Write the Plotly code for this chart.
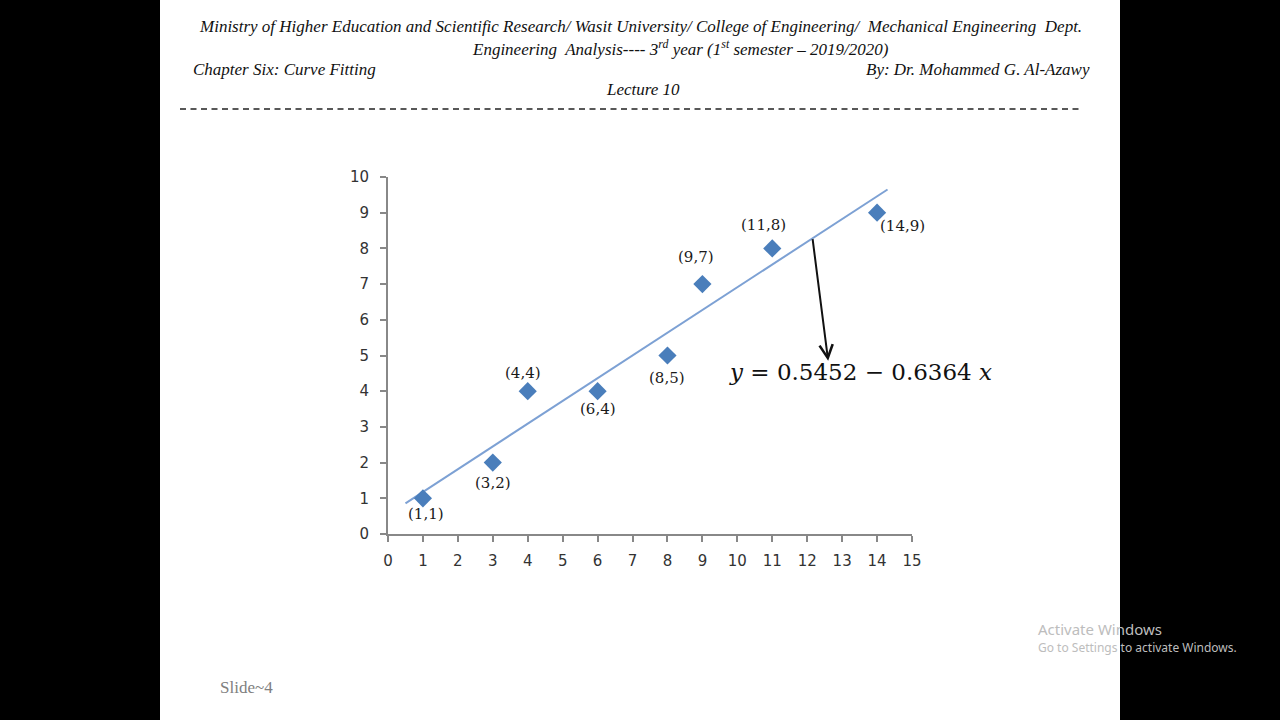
import plotly.graph_objects as go

# ---- data ----
x_pts = [1, 3, 4, 6, 8, 9, 11, 14]
y_pts = [1, 2, 4, 4, 5, 7, 8, 9]
fit_x = [0.5, 14.3]
fit_y = [0.86, 9.65]
arrow_start = (12.15, 8.3)
arrow_end = (12.6, 4.85)
equation = "<i>y</i> = 0.5452 − 0.6364 <i>x</i>"
x_ticks = list(range(0, 16))
y_ticks = list(range(0, 11))

W, H = 1280, 720
def px(x): return x / W
def py(y): return 1 - y / H

fig = go.Figure()

fig.add_trace(go.Scatter(
    x=fit_x, y=fit_y, mode="lines",
    line=dict(color="#7DA1D4", width=2), hoverinfo="skip", showlegend=False))

fig.add_trace(go.Scatter(
    x=x_pts, y=y_pts, mode="markers",
    marker=dict(symbol="diamond", size=14, color="#4A7EBB", line=dict(width=0)),
    showlegend=False))

annotations = []
# point labels (offsets in pixels)
offsets = [(3, -16), (0, -20), (-5, 18), (0, -18), (0, -22), (-6, 27), (-9, 23), (25, -13)]
for (xv, yv), (dx, dy) in zip(zip(x_pts, y_pts), offsets):
    annotations.append(dict(
        x=xv, y=yv, xref="x", yref="y", text=f"({xv},{yv})", showarrow=False,
        xshift=dx, yshift=dy, font=dict(family="DejaVu Serif", size=15, color="#1a1a1a")))

# arrow
annotations.append(dict(
    x=arrow_end[0], y=arrow_end[1], ax=arrow_start[0], ay=arrow_start[1],
    xref="x", yref="y", axref="x", ayref="y", text="", showarrow=True,
    arrowhead=5, arrowsize=1.3, arrowwidth=2, arrowcolor="#111111"))

# equation
annotations.append(dict(
    x=px(860), y=py(372), xref="paper", yref="paper", text=equation, showarrow=False,
    xanchor="center", yanchor="middle",
    font=dict(family="DejaVu Serif", size=23, color="#111111")))

# header texts
hfont = dict(family="Liberation Serif", size=17, color="#111111")
annotations += [
    dict(x=px(640), y=py(27), text="<i>Ministry of Higher Education and Scientific Research/ Wasit University/ College of Engineering/  Mechanical Engineering  Dept.</i>",
         xanchor="center", font=hfont),
    dict(x=px(680), y=py(48), text="<i>Engineering  Analysis---- 3<sup>rd</sup> year (1<sup>st</sup> semester – 2019/2020)</i>",
         xanchor="center", font=hfont),
    dict(x=px(191), y=py(69), text="<i>Chapter Six: Curve Fitting</i>", xanchor="left", font=hfont),
    dict(x=px(1092), y=py(69), text="<i>By: Dr. Mohammed G. Al-Azawy</i>", xanchor="right", font=hfont),
    dict(x=px(643), y=py(89), text="<i>Lecture 10</i>", xanchor="center", font=hfont),
    dict(x=px(218), y=py(687), text="Slide~4", xanchor="left",
         font=dict(family="Liberation Serif", size=17, color="#808080")),
    dict(x=px(1036), y=py(629), text="Activate Windows", xanchor="left",
         font=dict(family="Noto Sans", size=15, color="#bdbdbd")),
    dict(x=px(1036), y=py(647), text="Go to Settings to activate Windows.", xanchor="left",
         font=dict(family="Noto Sans", size=12, color="#bdbdbd")),
]
for a in annotations[-8:]:
    a.update(xref="paper", yref="paper", showarrow=False, yanchor="middle")

shapes = [
    dict(type="rect", xref="paper", yref="paper", x0=px(160), x1=px(1120), y0=0, y1=1,
         fillcolor="white", line=dict(width=0), layer="below"),
    dict(type="line", xref="paper", yref="paper", x0=px(180), x1=px(1082), y0=py(109), y1=py(109),
         line=dict(color="#222222", width=1.5, dash="6px,4.5px")),
]

axis_common = dict(showgrid=False, zeroline=False, showline=True, linecolor="#888888", linewidth=2,
                   ticks="outside", ticklen=6, tickwidth=1.5, tickcolor="#888888", automargin=False,
                   tickfont=dict(family="DejaVu Sans", size=15, color="#333333"))

fig.update_layout(
    width=W, height=H, margin=dict(l=0, r=0, t=0, b=0, pad=0, autoexpand=False),
    paper_bgcolor="black", plot_bgcolor="rgba(0,0,0,0)",
    xaxis=dict(range=[0, 15], domain=[px(388), px(912)], tickvals=x_ticks,
               ticklabelstandoff=6, **axis_common),
    yaxis=dict(range=[0, 10], domain=[py(534), py(177)], tickvals=y_ticks,
               ticklabelstandoff=8, **axis_common),
    annotations=annotations, shapes=shapes, showlegend=False)

fig.write_html("out.html")
